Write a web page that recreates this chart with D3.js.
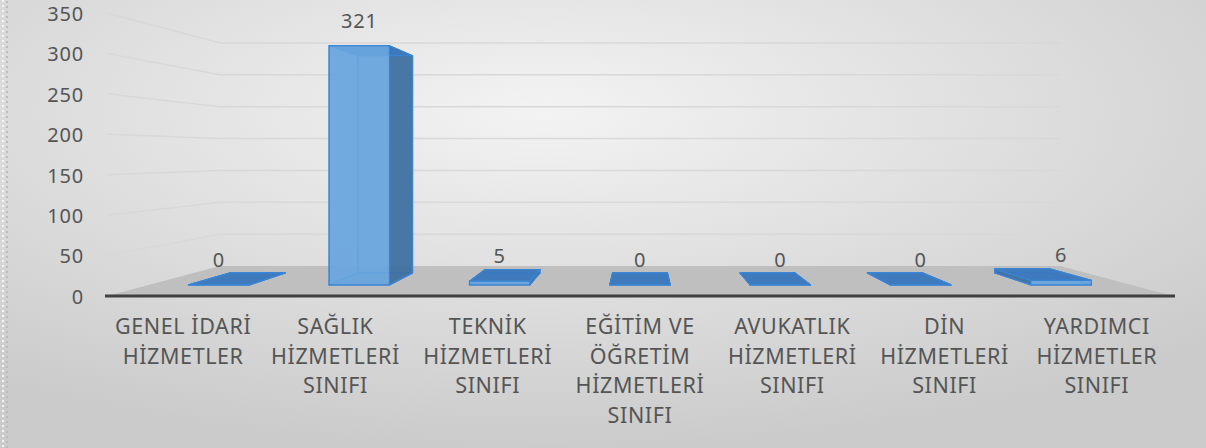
<!DOCTYPE html>
<html>
<head>
<meta charset="utf-8">
<script src="https://cdn.jsdelivr.net/npm/d3@7"></script>
<style>
  html, body { margin: 0; padding: 0; background: #e6e6e6; }
  svg text { font-family: "Noto Sans", "Open Sans", sans-serif; fill: #555555; }
</style>
</head>
<body>
<div id="chart"></div>
<script>
document.addEventListener('DOMContentLoaded', function() {
    const width = 1206;
    const height = 448;

    // chart data
    const categories = ["GENEL İDARİ HİZMETLER", "SAĞLIK HİZMETLERİ SINIFI", "TEKNİK HİZMETLERİ SINIFI",
        "EĞİTİM VE ÖĞRETİM HİZMETLERİ SINIFI", "AVUKATLIK HİZMETLERİ SINIFI", "DİN HİZMETLERİ SINIFI",
        "YARDIMCI HİZMETLER SINIFI"];
    const labelLines = [
        ["GENEL İDARİ", "HİZMETLER"],
        ["SAĞLIK", "HİZMETLERİ", "SINIFI"],
        ["TEKNİK", "HİZMETLERİ", "SINIFI"],
        ["EĞİTİM VE", "ÖĞRETİM", "HİZMETLERİ", "SINIFI"],
        ["AVUKATLIK", "HİZMETLERİ", "SINIFI"],
        ["DİN", "HİZMETLERİ", "SINIFI"],
        ["YARDIMCI", "HİZMETLER", "SINIFI"]
    ];
    const values = [0, 321, 5, 0, 0, 0, 6];
    const yTicks = [0, 50, 100, 150, 200, 250, 300, 350];

    const svg = d3.select("#chart")
        .append("svg")
        .attr("width", width)
        .attr("height", height);

    // background gradient
    const defs = svg.append("defs");
    const grad = defs.append("radialGradient")
        .attr("id", "bg")
        .attr("cx", "45%").attr("cy", "25%").attr("r", "75%");
    grad.append("stop").attr("offset", "0%").attr("stop-color", "#f3f3f3");
    grad.append("stop").attr("offset", "100%").attr("stop-color", "#cbcbcb");
    svg.append("rect").attr("width", width).attr("height", height).attr("fill", "url(#bg)");

    // dotted strip on the left border
    svg.append("line").attr("x1", 3).attr("x2", 3).attr("y1", 0).attr("y2", height)
        .attr("stroke", "#f4f4f4").attr("stroke-width", 2).attr("stroke-dasharray", "2,3");
    svg.append("line").attr("x1", 7).attr("x2", 7).attr("y1", 1).attr("y2", height)
        .attr("stroke", "#bcbcbc").attr("stroke-width", 2).attr("stroke-dasharray", "2,3");

    // --- 3D-ish projection: front plane and back plane, depth d in [0,1] ---
    const yFront = d3.scaleLinear().domain([0, 350]).range([296, 13]);
    const yBack = d3.scaleLinear().domain([0, 350]).range([266, 43]);
    const xFront = d3.scaleLinear().domain([0, 1]).range([107, 1173]);
    const xBack = d3.scaleLinear().domain([0, 1]).range([220, 1060]);
    const band = d3.scaleBand().domain(categories).range([0, 1])
        .paddingInner(0.57).paddingOuter(0.285);
    const d0 = 0.37, d1 = 0.77;

    function project(u, v, d) {
        return [
            xFront(u) + (xBack(u) - xFront(u)) * d,
            yFront(v) + (yBack(v) - yFront(v)) * d
        ];
    }
    const poly = pts => "M" + pts.map(p => p.join(",")).join("L") + "Z";

    // floor
    svg.append("path")
        .attr("d", poly([project(0, 0, 0), project(0, 0, 1), project(1, 0, 1), project(1, 0, 0)]))
        .attr("fill", "#bfbfbf");

    // gridlines: side wall + back wall
    const grid = svg.append("g").attr("class", "grid");
    yTicks.filter(t => t > 0).forEach(t => {
        grid.append("path")
            .attr("d", "M" + project(0, t, 0).join(",") + "L" + project(0, t, 1).join(",") +
                "L" + project(1, t, 1).join(","))
            .attr("fill", "none")
            .attr("stroke", "#d8d8d8")
            .attr("stroke-width", 1.5);
    });

    // y axis labels
    const yAxis = d3.axisLeft(yFront).tickValues(yTicks).tickSize(0).tickPadding(0);
    const yg = svg.append("g").attr("transform", "translate(84,1)").call(yAxis);
    yg.select(".domain").remove();
    yg.selectAll("text")
        .style("font-size", "20px")
        .style("letter-spacing", "0.8px")
        .attr("fill", "#555555");

    // bars
    const bars = svg.append("g").attr("class", "bars");
    categories.forEach((c, i) => {
        const u0 = band(c), u1 = band(c) + band.bandwidth();
        const v0 = 0, v1 = values[i];
        const P = (u, v, d) => project(u, v, d);
        const g = bars.append("g");
        const faces = [];
        // back, bottom, hidden stuff first
        faces.push({ pts: [P(u0, v0, d1), P(u1, v0, d1), P(u1, v1, d1), P(u0, v1, d1)], fill: "#5b9bd5", op: 0.5 });
        faces.push({ pts: [P(u0, v0, d0), P(u1, v0, d0), P(u1, v0, d1), P(u0, v0, d1)], fill: "#4d86c4", op: 0.5 });
        const uc = (u0 + u1) / 2;
        if (uc < 0.5) {
            faces.push({ pts: [P(u0, v0, d0), P(u0, v0, d1), P(u0, v1, d1), P(u0, v1, d0)], fill: "#5b9bd5", op: 0.4 });
            faces.push({ pts: [P(u1, v0, d0), P(u1, v0, d1), P(u1, v1, d1), P(u1, v1, d0)], fill: "#3f6f9f", op: 0.9 });
        } else {
            faces.push({ pts: [P(u1, v0, d0), P(u1, v0, d1), P(u1, v1, d1), P(u1, v1, d0)], fill: "#5b9bd5", op: 0.4 });
            faces.push({ pts: [P(u0, v0, d0), P(u0, v0, d1), P(u0, v1, d1), P(u0, v1, d0)], fill: "#3f6f9f", op: 0.9 });
        }
        faces.push({ pts: [P(u0, v1, d0), P(u1, v1, d0), P(u1, v1, d1), P(u0, v1, d1)], fill: "#3b78bd", op: 0.95 });
        faces.push({ pts: [P(u0, v0, d0), P(u1, v0, d0), P(u1, v1, d0), P(u0, v1, d0)], fill: "#6aa6de", op: 0.9 });

        faces.forEach(f => {
            g.append("path")
                .attr("d", poly(f.pts))
                .attr("fill", f.fill)
                .attr("fill-opacity", f.op)
                .attr("stroke", "#3a84d4")
                .attr("stroke-width", 1.2)
                .attr("stroke-linejoin", "round");
        });

        // data label
        const lp = P(uc, v1, d0);
        svg.append("text")
            .attr("x", lp[0])
            .attr("y", lp[1] - 25)
            .attr("dy", "0.35em")
            .attr("text-anchor", "middle")
            .style("font-size", "20px")
            .style("letter-spacing", "0.8px")
            .text(values[i]);
    });

    // front edge of the floor (category axis line)
    svg.append("line")
        .attr("x1", 105).attr("x2", 1175)
        .attr("y1", 296).attr("y2", 296)
        .attr("stroke", "#404040")
        .attr("stroke-width", 3);

    // category labels
    const xl = svg.append("g").attr("class", "x-labels");
    categories.forEach((c, i) => {
        const cx = xFront(band(c) + band.bandwidth() / 2);
        const t = xl.append("text")
            .attr("text-anchor", "middle")
            .style("font-size", "21.5px")
            .style("letter-spacing", "0.6px");
        labelLines[i].forEach((line, k) => {
            t.append("tspan")
                .attr("x", cx)
                .attr("y", 334 + k * 29.5)
                .text(line);
        });
    });
});
</script>
</body>
</html>
